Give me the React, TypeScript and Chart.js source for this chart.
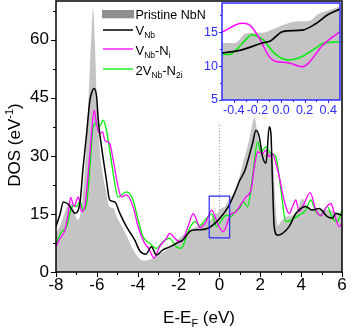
import React, { useEffect, useRef } from 'react';
import { Chart, registerables } from 'chart.js';
Chart.register(...registerables);

const FONT = '"Liberation Sans", Arial, Helvetica, sans-serif';

// ---------- Main plot data ----------
const pristineE = [-8, -7.8, -7.6, -7.45, -7.3, -7.15, -6.95, -6.85, -6.75, -6.65, -6.55, -6.45, -6.35, -6.25, -6.18, -6.1, -6.02, -5.95, -5.85, -5.7, -5.55, -5.4, -5.2, -5.0, -4.8, -4.55, -4.3, -4.0, -3.8, -3.6, -3.4, -3.2, -3.0, -2.8, -2.5, -2.2, -2.0, -1.8, -1.5, -1.2, -1.0, -0.8, -0.6, -0.4, -0.3, -0.1, 0, 0.15, 0.25, 0.35, 0.5, 0.75, 1.0, 1.2, 1.45, 1.6, 1.72, 1.85, 2.0, 2.2, 2.4, 2.55, 2.65, 2.75, 2.85, 3.0, 3.2, 3.5, 3.8, 4.05, 4.3, 4.6, 5.0, 5.4, 5.7, 6.0];
const pristineDOS = [10, 12, 15, 17, 18, 16.5, 13.5, 14, 17, 22, 30, 40, 52, 63, 68, 60, 47, 41, 31, 25, 21, 17, 16.5, 14, 12, 9.5, 6.5, 4, 3, 3, 3.2, 3.8, 4.5, 5, 6, 7.5, 8.5, 9.5, 10.5, 11.5, 12, 12.5, 13.2, 13.4, 14.8, 15.2, 16, 16.6, 16.7, 17.7, 18.8, 21, 25, 29, 34, 38, 40, 36, 32, 30.5, 31, 31, 27, 17, 12, 13, 14, 14.5, 15.5, 19, 17, 16, 16, 16, 15.5, 15];

const vnbE = [-8, -7.8, -7.64, -7.4, -7.07, -6.83, -6.67, -6.5, -6.34, -6.2, -6.13, -6.01, -5.93, -5.77, -5.53, -5.37, -5.12, -4.88, -4.55, -4.15, -3.9, -3.6, -3.33, -3.09, -2.77, -2.44, -2.11, -1.79, -1.35, -0.98, -0.56, -0.06, 0.43, 0.81, 0.98, 1.25, 1.62, 1.79, 1.95, 2.11, 2.28, 2.44, 2.52, 2.6, 2.68, 2.84, 3.09, 3.41, 3.74, 4.23, 4.55, 4.88, 5.28, 5.53, 5.69, 6.0];
const vnbDOS = [11.7, 15, 18.1, 17.5, 15.2, 17.8, 27.2, 35.8, 44.4, 47, 47.4, 45.2, 39.2, 32.3, 23.7, 18.6, 18.1, 15.2, 11.7, 8.3, 5.5, 4.6, 6.5, 4.4, 5.7, 6.5, 7.4, 8.3, 10.8, 10.9, 11.3, 13.4, 16.8, 21.2, 23.5, 26.3, 33.2, 36.6, 34.9, 29.8, 28.1, 37.5, 35.8, 22.9, 11.7, 9.5, 10, 11.7, 15.1, 16.9, 16, 16.4, 14.3, 13.9, 15.1, 14.7];

const vnbNiE = [-8, -7.8, -7.56, -7.4, -7.28, -7.12, -6.91, -6.75, -6.59, -6.42, -6.26, -6.13, -6.01, -5.85, -5.72, -5.61, -5.37, -5.2, -4.96, -4.8, -4.55, -4.23, -3.98, -3.7, -3.45, -3.2, -2.93, -2.6, -2.44, -2.11, -1.87, -1.54, -1.28, -0.95, -0.65, -0.38, -0.06, 0.19, 0.55, 0.8, 0.98, 1.3, 1.55, 1.71, 1.87, 2.11, 2.28, 2.44, 2.6, 2.76, 2.93, 3.09, 3.25, 3.41, 3.58, 3.74, 3.9, 4.15, 4.44, 4.72, 4.96, 5.2, 5.45, 5.69, 5.85, 6.0];
const vnbNiDOS = [6.5, 8.7, 10.8, 15.2, 19.3, 16.9, 19.4, 15.6, 16.9, 25.5, 35.8, 41.8, 37.9, 35.8, 36.2, 34, 33.2, 28.9, 22, 19.4, 19.9, 16.9, 11.7, 7.8, 6, 3.6, 6.5, 8.7, 10, 8.3, 7.8, 11.7, 15.1, 11.5, 13, 16, 12.1, 10.4, 14.9, 15.5, 16.9, 19.4, 21.2, 27.2, 31, 30.6, 31.5, 29.8, 30.6, 28.1, 24.6, 20.3, 16.9, 15.1, 16.9, 18.6, 15.6, 17.7, 20.5, 16, 14.5, 16.5, 17.7, 13.9, 11.7, 12.5];

const v2NbE = [-8, -7.72, -7.48, -7.32, -7.15, -7.0, -6.83, -6.67, -6.5, -6.34, -6.18, -6.01, -5.85, -5.69, -5.53, -5.37, -5.2, -4.96, -4.55, -4.23, -3.98, -3.74, -3.41, -3.09, -2.77, -2.44, -2.11, -1.87, -1.54, -1.2, -0.95, -0.71, -0.38, -0.14, 0.1, 0.35, 0.55, 0.83, 0.98, 1.17, 1.38, 1.62, 1.87, 2.03, 2.28, 2.52, 2.76, 3.01, 3.25, 3.5, 3.9, 4.23, 4.47, 4.72, 4.96, 5.28, 5.53, 5.77, 6.0];
const v2NbDOS = [7.4, 10.4, 11.7, 15.2, 17.3, 16.9, 18.1, 16, 17.7, 27.2, 37.5, 38.4, 37.7, 39.2, 36.6, 31.5, 25.5, 19.4, 20.7, 18.6, 13.4, 9.1, 7.4, 6.1, 7.8, 8.7, 6.5, 6.1, 10.4, 13, 12, 13.4, 15, 11.7, 13.4, 14.7, 14.3, 15.9, 16.4, 18.1, 16.9, 24.6, 33.6, 31, 32.3, 30.6, 29.8, 21.2, 13, 13.4, 14.7, 16, 18.6, 15.6, 14.7, 16.9, 13.9, 13, 16];

const mainXTicks = [-8, -6, -4, -2, 0, 2, 4, 6];
const mainXMinor = [-7, -5, -3, -1, 1, 3, 5];
const mainYTicks = [0, 15, 30, 45, 60];
const mainYMinor = [7.5, 22.5, 37.5, 52.5, 67.5];
const fermiE = [0, 0];
const fermiDOS = [16, 38.5];
const boxE = [-0.5, 0.5, 0.5, -0.5, -0.5];
const boxDOS = [8.8, 8.8, 19.6, 19.6, 8.8];

// ---------- Inset data ----------
const insetPristineE = [-0.5, -0.39, -0.3, -0.2, -0.13, -0.06, 0.04, 0.15, 0.23, 0.32, 0.4, 0.5];
const insetPristineDOS = [13.4, 13.4, 14.8, 14.9, 15.0, 15.5, 16.2, 16.6, 16.6, 17.7, 18.2, 18.8];
const insetVnbE = [-0.5, -0.33, -0.16, -0.09, 0.0, 0.05, 0.18, 0.29, 0.4, 0.5];
const insetVnbDOS = [11.9, 12.4, 13.4, 13.7, 15.0, 15.2, 15.3, 16.2, 17.6, 18.4];
const insetVnbNiE = [-0.5, -0.33, -0.27, -0.19, -0.1, -0.05, 0.06, 0.18, 0.23, 0.35, 0.5];
const insetVnbNiDOS = [15.0, 16.3, 16.1, 14.3, 11.4, 10.7, 10.5, 9.9, 10.4, 13.0, 15.1];
const inset2VE = [-0.5, -0.44, -0.33, -0.25, -0.16, -0.05, 0.06, 0.15, 0.29, 0.35, 0.5];
const inset2VDOS = [11.7, 11.7, 13.3, 14.6, 14.0, 11.8, 10.9, 11.2, 12.6, 13.3, 13.6];
const insetXTicks = [-0.4, -0.2, 0, 0.2, 0.4];
const insetXMinor = [-0.3, -0.1, 0.1, 0.3];
const insetYTicks = [5, 10, 15];
const insetYMinor = [7.5, 12.5, 17.5];

const COLORS = { pristine: '#c4c4c4', legendGray: '#8f8f8f', vnb: '#000000', vnbNi: '#ff00ff', v2: '#00ee00', blue: '#2b2bff' };

const pts = (xs: number[], ys: number[]) => xs.map((x, i) => ({ x, y: ys[i] }));

type Run = { t: string; size: number; dy: number };
function drawRuns(ctx: CanvasRenderingContext2D, runs: Run[], x: number, y: number, align: 'left' | 'center') {
  let total = 0;
  for (const r of runs) { ctx.font = `${r.size}px ${FONT}`; total += ctx.measureText(r.t).width; }
  let cx = align === 'center' ? x - total / 2 : x;
  ctx.textBaseline = 'alphabetic';
  ctx.textAlign = 'left';
  for (const r of runs) {
    ctx.font = `${r.size}px ${FONT}`;
    ctx.fillText(r.t, cx, y + r.dy);
    cx += ctx.measureText(r.t).width;
  }
}

function framePlugin(id: string, color: string, lw: number, xMaj: number[], xMin: number[], yMaj: number[], yMin: number[], majLen: number, minLen: number, whiteBg: boolean) {
  return {
    id,
    beforeDatasetsDraw(chart: any) {
      if (!whiteBg) return;
      const { ctx, chartArea: a } = chart;
      ctx.save();
      ctx.fillStyle = '#ffffff';
      ctx.fillRect(a.left, a.top, a.right - a.left, a.bottom - a.top);
      ctx.restore();
    },
    afterDatasetsDraw(chart: any) {
      const { ctx, chartArea: a, scales } = chart;
      ctx.save();
      ctx.strokeStyle = color;
      ctx.lineWidth = lw;
      ctx.strokeRect(a.left, a.top, a.right - a.left, a.bottom - a.top);
      ctx.lineWidth = 1;
      ctx.beginPath();
      const tickX = (v: number, len: number) => { const p = Math.round(scales.x.getPixelForValue(v)) + 0.5; ctx.moveTo(p, a.bottom); ctx.lineTo(p, a.bottom + len); };
      const tickY = (v: number, len: number) => { const p = Math.round(scales.y.getPixelForValue(v)) + 0.5; ctx.moveTo(a.left, p); ctx.lineTo(a.left - len, p); };
      xMaj.forEach(v => tickX(v, majLen));
      xMin.forEach(v => tickX(v, minLen));
      yMaj.forEach(v => tickY(v, majLen));
      yMin.forEach(v => tickY(v, minLen));
      ctx.stroke();
      ctx.restore();
    },
  };
}

const textPlugin = {
  id: 'mainTexts',
  afterDatasetsDraw(chart: any) {
    const { ctx } = chart;
    ctx.save();
    // legend background
    ctx.fillStyle = '#ffffff';
    ctx.fillRect(98.5, 2.5, 120, 80);
    ctx.restore();
  },
  afterDraw(chart: any) {
    const { ctx } = chart;
    ctx.save();
    ctx.fillStyle = '#000';
    // x title
    drawRuns(ctx, [{ t: 'E-E', size: 17, dy: 0 }, { t: 'F', size: 11, dy: 4 }, { t: ' (eV)', size: 17, dy: 0 }], 199, 323, 'center');
    // y title
    ctx.save();
    ctx.translate(19.5, 145);
    ctx.rotate(-Math.PI / 2);
    drawRuns(ctx, [{ t: 'DOS (eV', size: 17, dy: 0 }, { t: '-1', size: 11, dy: -7 }, { t: ')', size: 17, dy: 0 }], 0, 0, 'center');
    ctx.restore();
    // legend
    ctx.fillStyle = COLORS.legendGray;
    ctx.fillRect(102, 10, 32, 8.3);
    const line = (y: number, c: string, w: number) => { ctx.strokeStyle = c; ctx.lineWidth = w; ctx.beginPath(); ctx.moveTo(103, y); ctx.lineTo(133, y); ctx.stroke(); };
    line(30, COLORS.vnb, 1.5);
    line(49, COLORS.vnbNi, 1.3);
    line(69, COLORS.v2, 1.3);
    ctx.fillStyle = '#000';
    drawRuns(ctx, [{ t: 'Pristine NbN', size: 12.5, dy: 0 }], 135.5, 18.5, 'left');
    drawRuns(ctx, [{ t: 'V', size: 13, dy: 0 }, { t: 'Nb', size: 8.5, dy: 3 }], 135.5, 35, 'left');
    drawRuns(ctx, [{ t: 'V', size: 13, dy: 0 }, { t: 'Nb', size: 8.5, dy: 3 }, { t: '-N', size: 13, dy: 0 }, { t: 'i', size: 8.5, dy: 3 }], 135.5, 55, 'left');
    drawRuns(ctx, [{ t: '2V', size: 13, dy: 0 }, { t: 'Nb', size: 8.5, dy: 3 }, { t: '-N', size: 13, dy: 0 }, { t: '2i', size: 8.5, dy: 3 }], 135.5, 75, 'left');
    ctx.restore();
  },
};

function lineDs(label: string, data: any[], color: string, width: number, order: number) {
  return { label, data, borderColor: color, borderWidth: width, pointRadius: 0, fill: false, cubicInterpolationMode: 'monotone', order };
}

const fixX = (h: number) => (s: any) => { s.height = h; s.paddingLeft = 0; s.paddingRight = 0; };
const fixY = (w: number) => (s: any) => { s.width = w; s.paddingTop = 0; s.paddingBottom = 0; };

function MainChart() {
  const ref = useRef<HTMLCanvasElement>(null);
  useEffect(() => {
    const chart = new Chart(ref.current as HTMLCanvasElement, {
      type: 'line',
      data: {
        datasets: [
          { label: 'Pristine NbN', data: pts(pristineE, pristineDOS), borderWidth: 0, borderColor: COLORS.pristine, backgroundColor: COLORS.pristine, fill: 'origin', pointRadius: 0, cubicInterpolationMode: 'monotone', order: 10 } as any,
          lineDs('2V_Nb-N_2i', pts(v2NbE, v2NbDOS), COLORS.v2, 1.3, 4),
          lineDs('V_Nb-N_i', pts(vnbNiE, vnbNiDOS), COLORS.vnbNi, 1.3, 3),
          lineDs('V_Nb', pts(vnbE, vnbDOS), COLORS.vnb, 1.5, 2),
          { label: 'EF', data: pts(fermiE, fermiDOS), borderColor: '#8a8a8a', borderWidth: 1, borderDash: [1, 2], pointRadius: 0, fill: false, tension: 0, order: 1 },
          { label: 'box', data: pts(boxE, boxDOS), borderColor: COLORS.blue, borderWidth: 1.2, pointRadius: 0, fill: false, tension: 0, order: 0 },
        ],
      },
      options: {
        animation: false,
        responsive: false,
        devicePixelRatio: 1,
        layout: { padding: { top: 1, right: 11, left: 0, bottom: 0 } },
        plugins: { legend: { display: false }, tooltip: { enabled: false } },
        scales: {
          x: {
            type: 'linear', min: -8, max: 6,
            afterBuildTicks: (s: any) => { s.ticks = mainXTicks.map(v => ({ value: v })); },
            afterFit: fixX(61),
            grid: { display: false, drawTicks: false }, border: { display: false },
            ticks: { font: { family: FONT, size: 17 }, color: '#000', padding: 3, maxRotation: 0, autoSkip: false },
          },
          y: {
            type: 'linear', min: 0, max: 70,
            afterBuildTicks: (s: any) => { s.ticks = mainYTicks.map(v => ({ value: v })); },
            afterFit: fixY(56),
            grid: { display: false, drawTicks: false }, border: { display: false },
            ticks: { font: { family: FONT, size: 17 }, color: '#000', padding: 7 },
          },
        },
      },
      plugins: [textPlugin, framePlugin('mainFrame', '#000', 1.5, mainXTicks, mainXMinor, mainYTicks, mainYMinor, 5, 3, false)],
    } as any);
    return () => chart.destroy();
  }, []);
  return <canvas ref={ref} width={353} height={333} style={{ position: 'absolute', left: 0, top: 0 }} />;
}

function InsetChart() {
  const ref = useRef<HTMLCanvasElement>(null);
  useEffect(() => {
    const chart = new Chart(ref.current as HTMLCanvasElement, {
      type: 'line',
      data: {
        datasets: [
          { label: 'Pristine NbN', data: pts(insetPristineE, insetPristineDOS), borderWidth: 0, borderColor: COLORS.pristine, backgroundColor: COLORS.pristine, fill: 'start', pointRadius: 0, cubicInterpolationMode: 'monotone', order: 10 } as any,
          lineDs('2V_Nb-N_2i', pts(inset2VE, inset2VDOS), COLORS.v2, 1.5, 4),
          lineDs('V_Nb-N_i', pts(insetVnbNiE, insetVnbNiDOS), COLORS.vnbNi, 1.5, 3),
          lineDs('V_Nb', pts(insetVnbE, insetVnbDOS), COLORS.vnb, 1.7, 2),
        ],
      },
      options: {
        animation: false,
        responsive: false,
        devicePixelRatio: 1,
        layout: { padding: { top: 3, right: 13, left: 0, bottom: 0 } },
        plugins: { legend: { display: false }, tooltip: { enabled: false } },
        scales: {
          x: {
            type: 'linear', min: -0.5, max: 0.5,
            afterBuildTicks: (s: any) => { s.ticks = insetXTicks.map(v => ({ value: v })); },
            afterFit: fixX(25),
            grid: { display: false, drawTicks: false }, border: { display: false },
            ticks: { font: { family: FONT, size: 12.5 }, color: COLORS.blue, padding: 3, maxRotation: 0, autoSkip: false, callback: (v: any) => Number(v).toFixed(1) },
          },
          y: {
            type: 'linear', min: 5, max: 19.3,
            afterBuildTicks: (s: any) => { s.ticks = insetYTicks.map(v => ({ value: v })); },
            afterFit: fixY(32),
            grid: { display: false, drawTicks: false }, border: { display: false },
            ticks: { font: { family: FONT, size: 12.5 }, color: COLORS.blue, padding: 4 },
          },
        },
      },
      plugins: [framePlugin('insetFrame', COLORS.blue, 1.5, insetXTicks, insetXMinor, insetYTicks, insetYMinor, 3, 2, true)],
    } as any);
    return () => chart.destroy();
  }, []);
  return <canvas ref={ref} width={163} height={125} style={{ position: 'absolute', left: 190, top: 0 }} />;
}

export default function App() {
  return (
    <div style={{ position: 'absolute', left: 0, top: 0, width: 353, height: 333, background: '#fff' }}>
      <MainChart />
      <InsetChart />
    </div>
  );
}
